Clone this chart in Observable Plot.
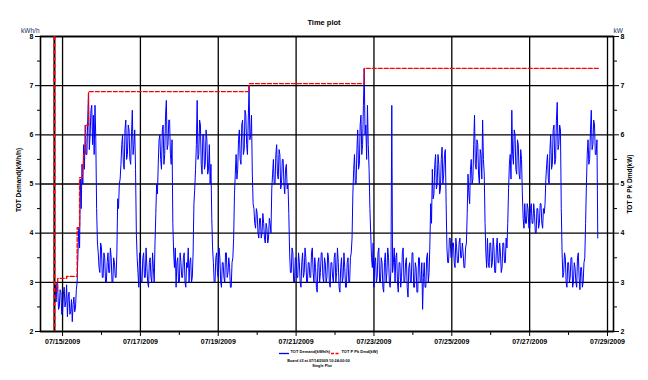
<!DOCTYPE html>
<html>
<head>
<meta charset="utf-8">
<script src="https://cdn.jsdelivr.net/npm/d3@7"></script>
<script src="https://cdn.jsdelivr.net/npm/@observablehq/plot@0.6"></script>
<style>
  html, body { margin: 0; padding: 0; background: #fff; }
  #chart { width: 648px; height: 380px; }
</style>
</head>
<body>
<div id="chart"></div>
<script>
// ---- data ----
const chartTitle = "Time plot";
const demandName = "TOT Demand(kWh/h)";
const peakName = "TOT P Pk Dmd(kW)";
const leftUnit = "kWh/h";
const rightUnit = "kW";
const footLine1 = "Board #2 at 07/14/2009 10:24:00:00";
const footLine2 = "Single Plot";

const demandStart = "2009-07-14T19:00:00Z"; // half-hourly readings from here
const demandStepMinutes = 30;
const demand = [
  2.8,2.95,2.6,3.0,2.9,2.45,2.5,2.85,2.8,2.35,2.4,2.75,2.9,2.5,2.6,2.95,2.3,2.7,2.8,2.35,2.4,2.65,2.2,2.55,
  2.7,2.4,2.5,2.85,3.0,3.6,4.1,3.7,5.1,4.5,5.4,5.0,5.8,5.3,6.2,5.6,5.6,6.3,6.85,5.7,6.0,6.5,6.6,5.8,
  6.4,5.6,6.6,5.9,4.5,3.8,3.6,3.3,3.2,3.8,3.7,3.1,3.1,3.6,3.5,3.0,3.0,3.4,3.6,3.2,3.2,3.7,3.5,3.0,
  3.0,3.5,3.4,3.1,3.1,3.6,4.7,4.5,5.0,5.1,5.4,5.8,6.0,5.4,5.3,6.1,6.3,5.5,5.6,6.2,6.1,5.5,5.4,6.0,
  6.5,5.6,5.8,6.1,5.3,4.0,3.5,3.2,2.9,3.6,3.4,3.0,3.0,3.5,3.6,3.1,3.1,3.7,3.3,3.0,2.9,3.4,3.5,3.1,
  3.0,3.6,3.3,3.0,3.8,4.4,5.0,4.8,5.4,5.9,6.0,5.5,5.3,6.1,6.2,5.4,5.6,6.4,6.7,5.7,5.8,6.3,6.3,5.6,
  5.4,5.9,4.2,3.6,3.3,3.7,2.9,3.4,3.5,3.0,3.0,3.6,3.4,3.1,3.1,3.5,3.6,3.0,2.9,3.4,3.3,3.7,3.0,3.4,
  3.5,3.0,3.1,3.6,4.6,4.9,5.3,5.8,6.7,5.5,5.6,6.3,6.2,5.4,5.2,6.0,6.0,5.3,5.4,6.1,5.9,5.2,5.3,5.8,
  5.0,5.4,4.3,3.7,3.4,3.0,3.0,3.5,3.6,3.2,3.1,3.7,3.5,3.0,2.9,3.4,3.4,3.1,3.0,3.6,3.6,3.1,3.2,3.5,
  3.3,2.9,2.9,3.4,3.5,3.9,4.8,5.2,5.6,5.1,5.3,5.9,6.1,5.5,5.4,6.2,6.3,5.6,5.7,6.5,6.4,5.8,5.6,6.3,
  7.0,5.9,6.0,6.4,5.2,4.6,4.5,4.2,4.1,4.5,4.4,4.0,3.9,4.3,4.3,3.9,4.0,4.4,4.2,3.9,3.8,4.2,4.1,3.8,
  3.9,4.3,4.2,4.0,4.9,5.2,5.5,5.0,5.0,5.6,5.8,5.2,5.1,5.7,5.6,4.9,5.0,5.5,5.5,5.0,4.8,5.3,5.4,4.9,
  5.0,4.4,3.6,3.2,3.2,3.7,3.6,3.0,3.0,3.5,3.5,3.1,3.1,3.6,3.4,3.0,2.9,3.4,3.6,3.1,3.2,3.7,3.5,3.0,
  3.0,3.4,3.4,3.1,3.1,3.6,3.7,3.2,3.0,3.5,3.3,2.9,2.8,3.4,3.5,3.0,3.2,3.6,3.6,3.1,3.0,3.5,3.4,3.0,
  3.1,3.6,3.5,3.0,2.9,3.4,3.4,3.1,3.0,3.5,3.6,3.0,3.2,3.7,3.4,2.9,2.8,3.3,3.5,3.0,3.1,3.6,3.3,2.9,
  2.9,3.4,3.5,3.0,3.0,3.5,3.6,3.9,4.8,5.3,5.6,5.0,5.0,5.7,6.1,5.3,5.4,6.2,6.4,5.6,5.8,6.6,7.35,6.0,
  6.2,5.5,6.6,5.8,5.3,4.5,4.0,3.5,3.3,3.8,2.9,3.4,3.5,3.0,3.1,3.6,3.7,3.0,3.0,3.5,3.4,2.9,2.8,3.4,
  3.6,3.0,3.2,3.7,3.5,3.0,2.9,3.3,6.6,3.2,3.4,3.7,3.0,3.5,3.6,3.0,2.8,3.4,3.4,2.9,3.1,3.6,3.7,3.0,
  3.0,3.4,3.5,2.9,2.7,3.3,3.4,3.0,3.0,3.6,3.6,2.9,2.9,3.4,3.3,2.8,2.8,3.5,3.5,3.0,3.0,3.4,2.45,3.1,
  3.4,2.9,2.9,3.5,3.6,3.0,3.2,3.8,4.6,4.2,5.3,4.7,4.8,5.4,5.6,4.9,5.0,5.6,5.4,4.8,4.9,5.5,5.75,5.0,
  5.2,5.6,5.7,4.6,3.7,3.4,3.4,3.9,3.9,3.5,3.5,3.8,3.8,3.4,3.3,3.9,3.7,3.4,3.4,3.8,3.9,3.5,3.5,3.8,
  3.6,3.3,3.3,3.7,3.8,4.4,5.2,4.8,4.6,5.3,5.5,5.0,5.1,5.8,6.4,5.4,5.3,5.9,5.8,5.2,5.0,5.7,5.6,5.1,
  6.3,5.5,5.2,4.2,3.6,3.3,3.9,3.4,3.3,3.8,3.8,3.3,3.4,3.9,3.7,3.2,3.2,3.7,3.9,3.4,3.4,3.8,3.6,3.2,
  3.3,3.8,3.8,3.4,3.4,3.9,3.7,4.2,4.9,5.4,5.6,5.1,6.5,5.6,5.4,6.1,6.0,5.3,5.2,5.9,5.8,5.2,5.1,5.7,
  5.5,4.8,4.3,4.1,4.6,4.2,4.2,4.6,4.5,4.1,4.1,4.5,4.6,4.2,4.2,4.6,4.4,4.0,4.0,4.5,4.5,4.1,4.2,4.6,
  4.6,4.2,4.1,4.5,4.4,4.6,5.1,5.4,5.6,5.1,5.0,5.7,6.0,5.3,5.4,6.1,6.2,5.4,5.5,6.3,6.66,5.7,5.8,6.2,
  6.1,4.5,3.6,3.1,3.2,3.6,3.5,3.0,2.9,3.4,3.4,3.0,3.1,3.5,3.5,2.9,3.0,3.4,3.3,3.0,2.9,3.5,3.6,3.1,
  2.85,3.3,3.3,2.9,3.0,3.4,3.5,4.2,5.0,5.6,5.9,5.4,5.5,6.1,6.5,5.7,5.8,6.3,6.2,5.6,5.6,5.9,3.9
];

const peakTimes = [
  "2009-07-14T19:00Z","2009-07-14T21:00Z","2009-07-15T02:30Z","2009-07-15T09:00Z",
  "2009-07-15T10:30Z","2009-07-15T12:15Z","2009-07-15T13:00Z","2009-07-15T14:15Z",
  "2009-07-15T16:00Z","2009-07-19T19:00Z","2009-07-22T18:00Z","2009-07-28T18:30Z"
];
const peakValues = [2.83,3.08,3.12,4.11,5.13,5.40,5.62,6.20,6.88,7.04,7.35,7.35];

const markerTime = "2009-07-14T19:00Z";
const xDomain = ["2009-07-14T10:24Z", "2009-07-29T03:42Z"];
const xTickLabels = ["07/15/2009","07/17/2009","07/19/2009","07/21/2009","07/23/2009","07/25/2009","07/27/2009","07/29/2009"];
const xMinorLabels = ["07/16/2009","07/18/2009","07/20/2009","07/22/2009","07/24/2009","07/26/2009","07/28/2009"];
const yTicks = [2,3,4,5,6,7,8];
const yMinor = [2.5,3.5,4.5,5.5,6.5,7.5];

// ---- build ----
const parseTick = d3.utcParse("%m/%d/%Y");
const fmtTick = d3.utcFormat("%m/%d/%Y");
const t0 = new Date(demandStart).getTime();
const demandData = demand.map((v, i) => ({t: new Date(t0 + i * demandStepMinutes * 60e3), v}));
const peakData = peakTimes.map((s, i) => ({t: new Date(s), v: peakValues[i]}));
const xMajor = xTickLabels.map(parseTick);
const xMinor = xMinorLabels.map(parseTick);

const font = "'Liberation Sans', Arial, sans-serif";
const tickText = {fontSize: 7, fontWeight: "bold"};
const intFmt = d3.format("d");

const plot = Plot.plot({
  width: 648,
  height: 380,
  marginLeft: 40,
  marginRight: 35,
  marginTop: 36,
  marginBottom: 49,
  style: {fontFamily: font, background: "#fff", color: "#000", overflow: "visible"},
  x: {type: "utc", domain: xDomain.map(d => new Date(d)), label: null},
  y: {domain: [2, 8], label: null},
  marks: [
    Plot.gridX(xMajor, {stroke: "#000", strokeOpacity: 1, strokeWidth: 1.3}),
    Plot.gridY(yTicks, {stroke: "#000", strokeOpacity: 1, strokeWidth: 1.3}),
    Plot.frame({stroke: "#000", strokeWidth: 1.6}),
    Plot.line(demandData, {x: "t", y: "v", stroke: "#0000ff", strokeWidth: 1}),
    Plot.line(peakData, {x: "t", y: "v", stroke: "#ff0000", strokeWidth: 1.3, strokeDasharray: "4,2", curve: "step-after"}),
    Plot.ruleX([new Date(markerTime)], {stroke: "#000", strokeWidth: 2}),
    Plot.ruleX([new Date(markerTime)], {stroke: "#ff0000", strokeWidth: 2, strokeDasharray: "4,3"}),
    // x axis
    Plot.axisX({ticks: xMajor, tickFormat: fmtTick, tickSize: 5, tickPadding: 3, ...tickText, label: null}),
    Plot.axisX({ticks: xMinor, tickFormat: () => "", tickSize: 4, label: null}),
    // left y axis
    Plot.axisY({anchor: "left", ticks: yTicks, tickFormat: intFmt, tickSize: 5, tickPadding: 2, ...tickText, label: null}),
    Plot.axisY({anchor: "left", ticks: yMinor, tickSize: 3, tickFormat: () => "", label: null}),
    // right y axis
    Plot.axisY({anchor: "right", ticks: yTicks, tickFormat: intFmt, tickSize: 5, tickPadding: 2, ...tickText, label: null}),
    Plot.axisY({anchor: "right", ticks: yMinor, tickSize: 3, tickFormat: () => "", label: null}),
    // titles & labels
    Plot.text([chartTitle], {frameAnchor: "top", dx: -3, dy: -17, fontSize: 7.5, fontWeight: "bold", textAnchor: "middle", fill: "#000"}),
    Plot.text([leftUnit], {frameAnchor: "top-left", dx: -1, dy: -8, fontSize: 6.5, textAnchor: "end", fill: "#1a2a5a"}),
    Plot.text([rightUnit], {frameAnchor: "top-right", dx: 0, dy: -8, fontSize: 6.5, textAnchor: "start", fill: "#1a2a5a"}),
    Plot.text([demandName], {frameAnchor: "left", dx: -22, dy: -4, rotate: -90, fontSize: 6.5, fontWeight: "bold", textAnchor: "middle", fill: "#000"}),
    Plot.text([peakName], {frameAnchor: "right", dx: 16, dy: 0, rotate: -90, fontSize: 6.5, fontWeight: "bold", textAnchor: "middle", fill: "#000"}),
    // legend & footnotes
    Plot.text([demandName], {frameAnchor: "bottom", dx: -36.5, dy: 21.5, fontSize: 4, fontWeight: "bold", textAnchor: "start", fill: "#000"}),
    Plot.text([peakName], {frameAnchor: "bottom", dx: 14.5, dy: 21.5, fontSize: 4, fontWeight: "bold", textAnchor: "start", fill: "#000"}),
    Plot.text([footLine1], {frameAnchor: "bottom", dx: -8.5, dy: 30.5, fontSize: 3.8, fontWeight: "bold", textAnchor: "middle", fill: "#000"}),
    Plot.text([footLine2], {frameAnchor: "bottom", dx: -5, dy: 35, fontSize: 3.8, fontWeight: "bold", textAnchor: "middle", fill: "#000"})
  ]
});

// legend swatches
const svg = d3.select(plot);
const cx = (40 + 613) / 2, ly = 331 + 21.5;
svg.append("line").attr("x1", cx - 47.5).attr("x2", cx - 37.5).attr("y1", ly + 1).attr("y2", ly + 1)
  .attr("stroke", "#0000ff").attr("stroke-width", 1.3);
svg.append("line").attr("x1", cx + 4.5).attr("x2", cx + 12).attr("y1", ly + 1).attr("y2", ly + 1)
  .attr("stroke", "#ff0000").attr("stroke-width", 1.3).attr("stroke-dasharray", "3,1.5");

document.getElementById("chart").appendChild(plot);
</script>
</body>
</html>
